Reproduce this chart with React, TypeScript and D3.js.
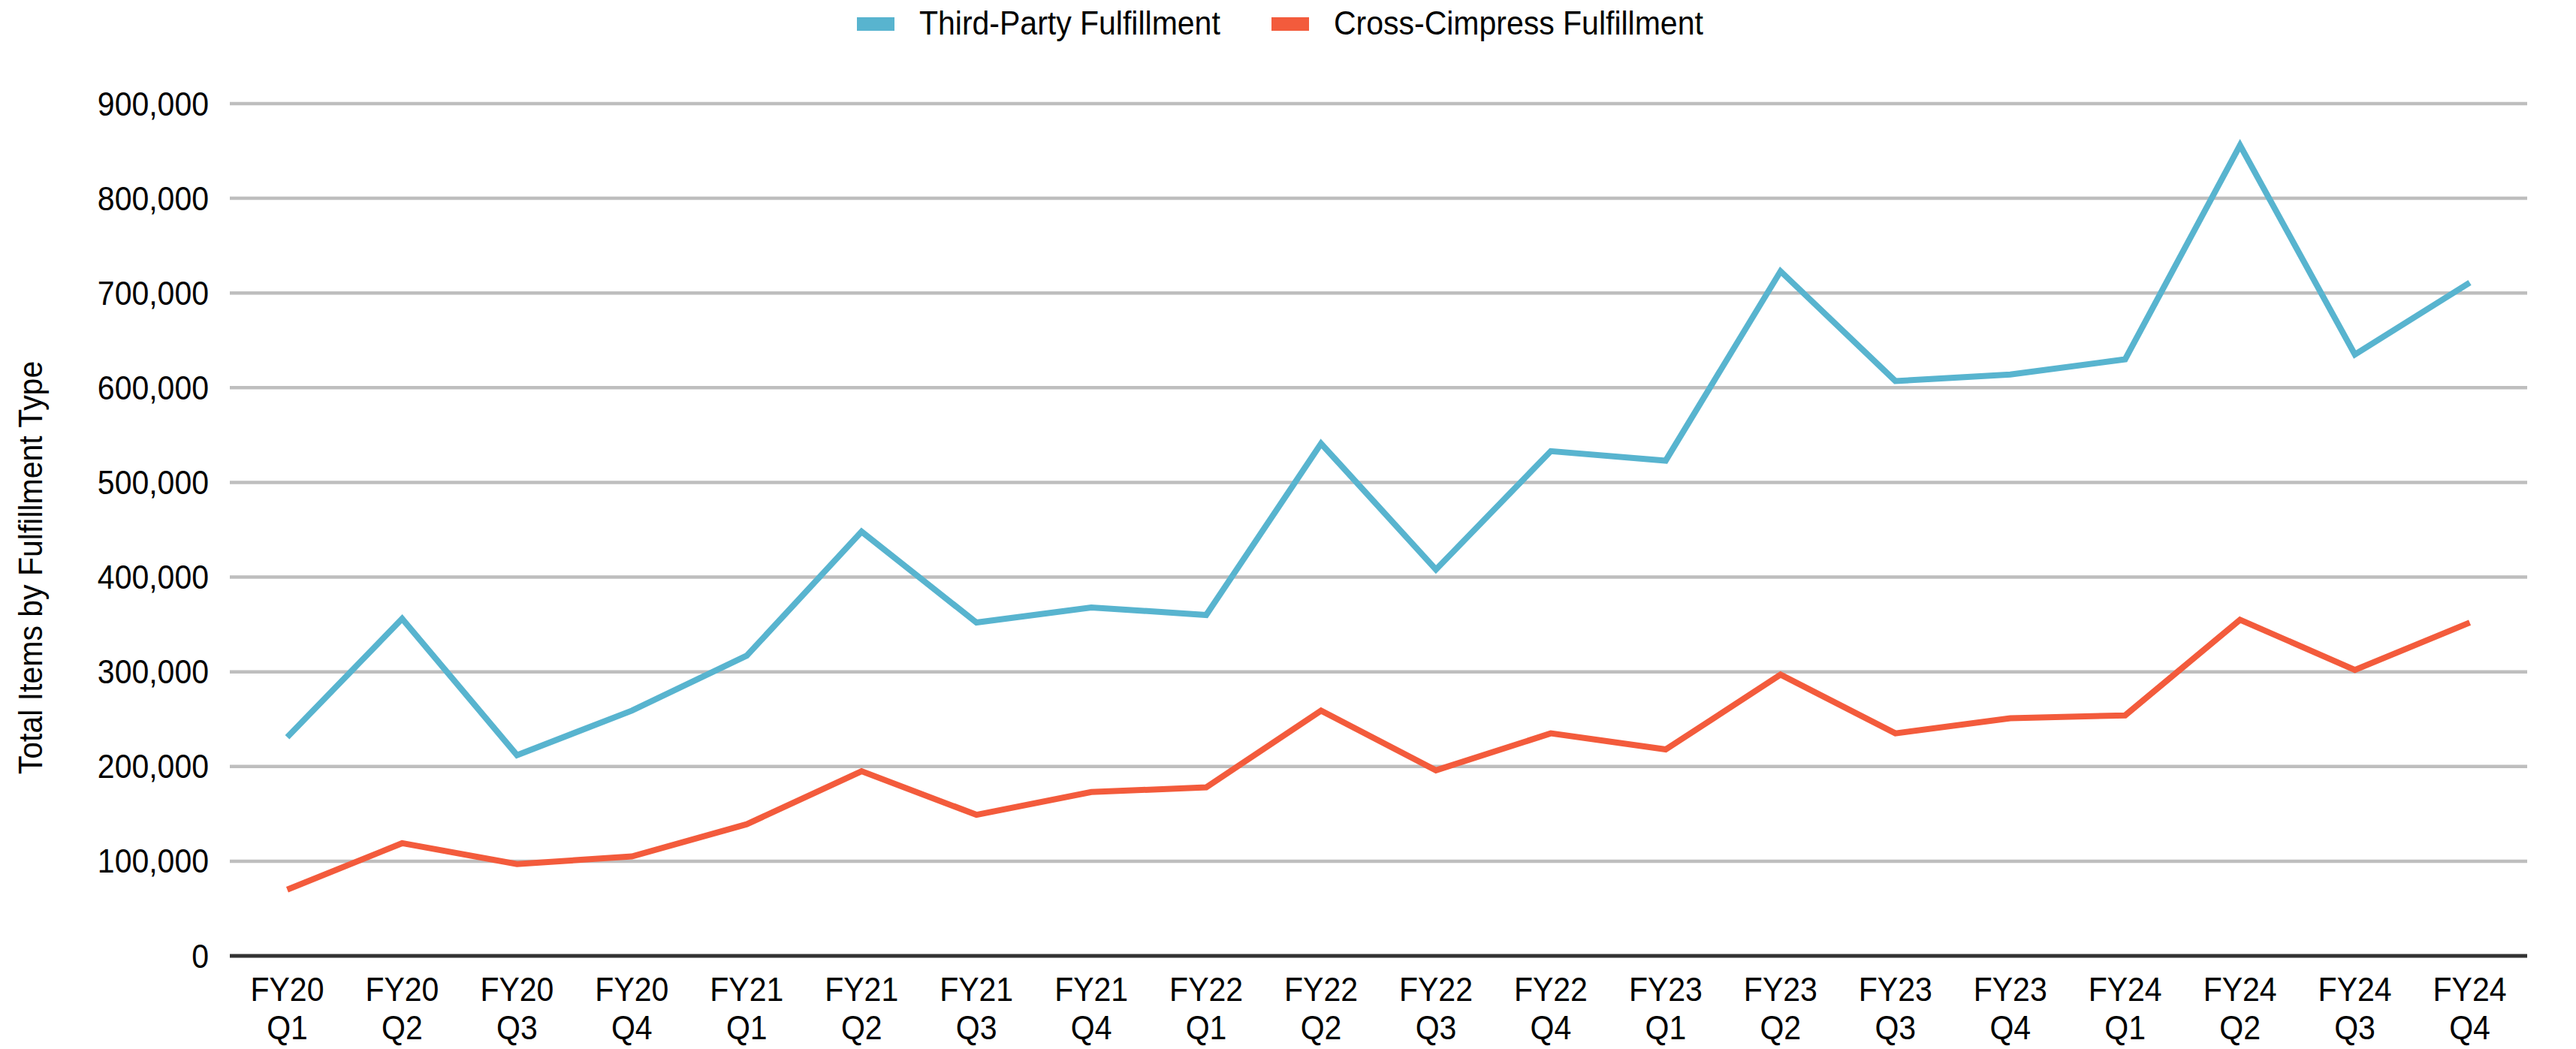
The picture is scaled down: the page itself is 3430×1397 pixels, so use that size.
import React from "react";
import * as d3 from "d3";

// Quarterly item counts by fulfillment type
const quarters = [
  "FY20 Q1", "FY20 Q2", "FY20 Q3", "FY20 Q4",
  "FY21 Q1", "FY21 Q2", "FY21 Q3", "FY21 Q4",
  "FY22 Q1", "FY22 Q2", "FY22 Q3", "FY22 Q4",
  "FY23 Q1", "FY23 Q2", "FY23 Q3", "FY23 Q4",
  "FY24 Q1", "FY24 Q2", "FY24 Q3", "FY24 Q4",
];

const thirdParty = [
  231000, 356000, 212000, 259000,
  317000, 448000, 352000, 368000,
  360000, 541000, 408000, 533000,
  523000, 723000, 607000, 614000,
  630000, 856000, 635000, 711000,
];

const crossCimpress = [
  70000, 119000, 97000, 105000,
  139000, 195000, 149000, 173000,
  178000, 259000, 196000, 235000,
  218000, 297000, 235000, 251000,
  254000, 355000, 302000, 352000,
];

const yTicks = [0, 100000, 200000, 300000, 400000, 500000, 600000, 700000, 800000, 900000];

const seriesNames = ["Third-Party Fulfillment", "Cross-Cimpress Fulfillment"];
const seriesColors = ["#58b4cf", "#f35b3c"];

const yAxisTitle = "Total Items by Fulfillment Type";

const W = 3430;
const H = 1397;
const FONT = "'Liberation Sans', Arial, Helvetica, sans-serif";
const FS = 41;
const STRETCH = 1.07; // glyphs are drawn slightly taller than wide

type LabelProps = {
  x: number;
  y: number;
  anchor?: "start" | "middle" | "end";
  rotate?: number;
  children: React.ReactNode;
};

function Label({ x, y, anchor = "start", rotate = 0, children }: LabelProps) {
  return (
    <text
      transform={`translate(${x}, ${y}) rotate(${rotate}) scale(1, ${STRETCH})`}
      textAnchor={anchor}
      fontSize={FS}
      fill="#000"
    >
      {children}
    </text>
  );
}

export default function App() {
  const plotLeft = 306;
  const plotRight = 3365;
  const plotTop = 138;
  const plotBottom = 1273;

  const x = d3.scalePoint<string>().domain(quarters).range([plotLeft, plotRight]).padding(0.5);
  const y = d3.scaleLinear().domain([0, 900000]).range([plotBottom, plotTop]);
  const fmt = d3.format(",");

  const line = d3
    .line<number>()
    .x((_, i) => x(quarters[i]) as number)
    .y((d) => y(d));

  const series = [thirdParty, crossCimpress];

  const legendItems = [
    { swatchX: 1141, textX: 1224 },
    { swatchX: 1693, textX: 1776 },
  ];

  return (
    <svg
      width={W}
      height={H}
      viewBox={`0 0 ${W} ${H}`}
      style={{ position: "absolute", left: 0, top: 0, background: "#ffffff" }}
      fontFamily={FONT}
    >
      <rect x={0} y={0} width={W} height={H} fill="#ffffff" />

      {/* legend */}
      {seriesNames.map((name, i) => (
        <g key={name}>
          <rect x={legendItems[i].swatchX} y={23} width={50} height={18} fill={seriesColors[i]} />
          <Label x={legendItems[i].textX} y={46}>
            {name}
          </Label>
        </g>
      ))}

      {/* horizontal gridlines */}
      {yTicks
        .filter((t) => t !== 0)
        .map((t) => (
          <line
            key={t}
            x1={plotLeft}
            x2={plotRight}
            y1={y(t)}
            y2={y(t)}
            stroke="#bebebe"
            strokeWidth={4.5}
          />
        ))}

      {/* y tick labels */}
      {yTicks.map((t) => (
        <Label key={`yl-${t}`} x={plotLeft - 28} y={y(t) + 15.5} anchor="end">
          {fmt(t)}
        </Label>
      ))}

      {/* y axis title */}
      <Label x={56} y={756} anchor="middle" rotate={-90}>
        {yAxisTitle}
      </Label>

      {/* series lines */}
      {series.map((values, i) => (
        <path
          key={seriesNames[i]}
          d={line(values) ?? ""}
          fill="none"
          stroke={seriesColors[i]}
          strokeWidth={8}
          strokeLinejoin="miter"
          strokeLinecap="butt"
        />
      ))}

      {/* baseline */}
      <line x1={plotLeft} x2={plotRight} y1={y(0)} y2={y(0)} stroke="#333333" strokeWidth={5} />

      {/* x tick labels */}
      {quarters.map((q) => {
        const [fy, qt] = q.split(" ");
        const cx = x(q) as number;
        return (
          <g key={q}>
            <Label x={cx} y={1333} anchor="middle">
              {fy}
            </Label>
            <Label x={cx} y={1384} anchor="middle">
              {qt}
            </Label>
          </g>
        );
      })}
    </svg>
  );
}
